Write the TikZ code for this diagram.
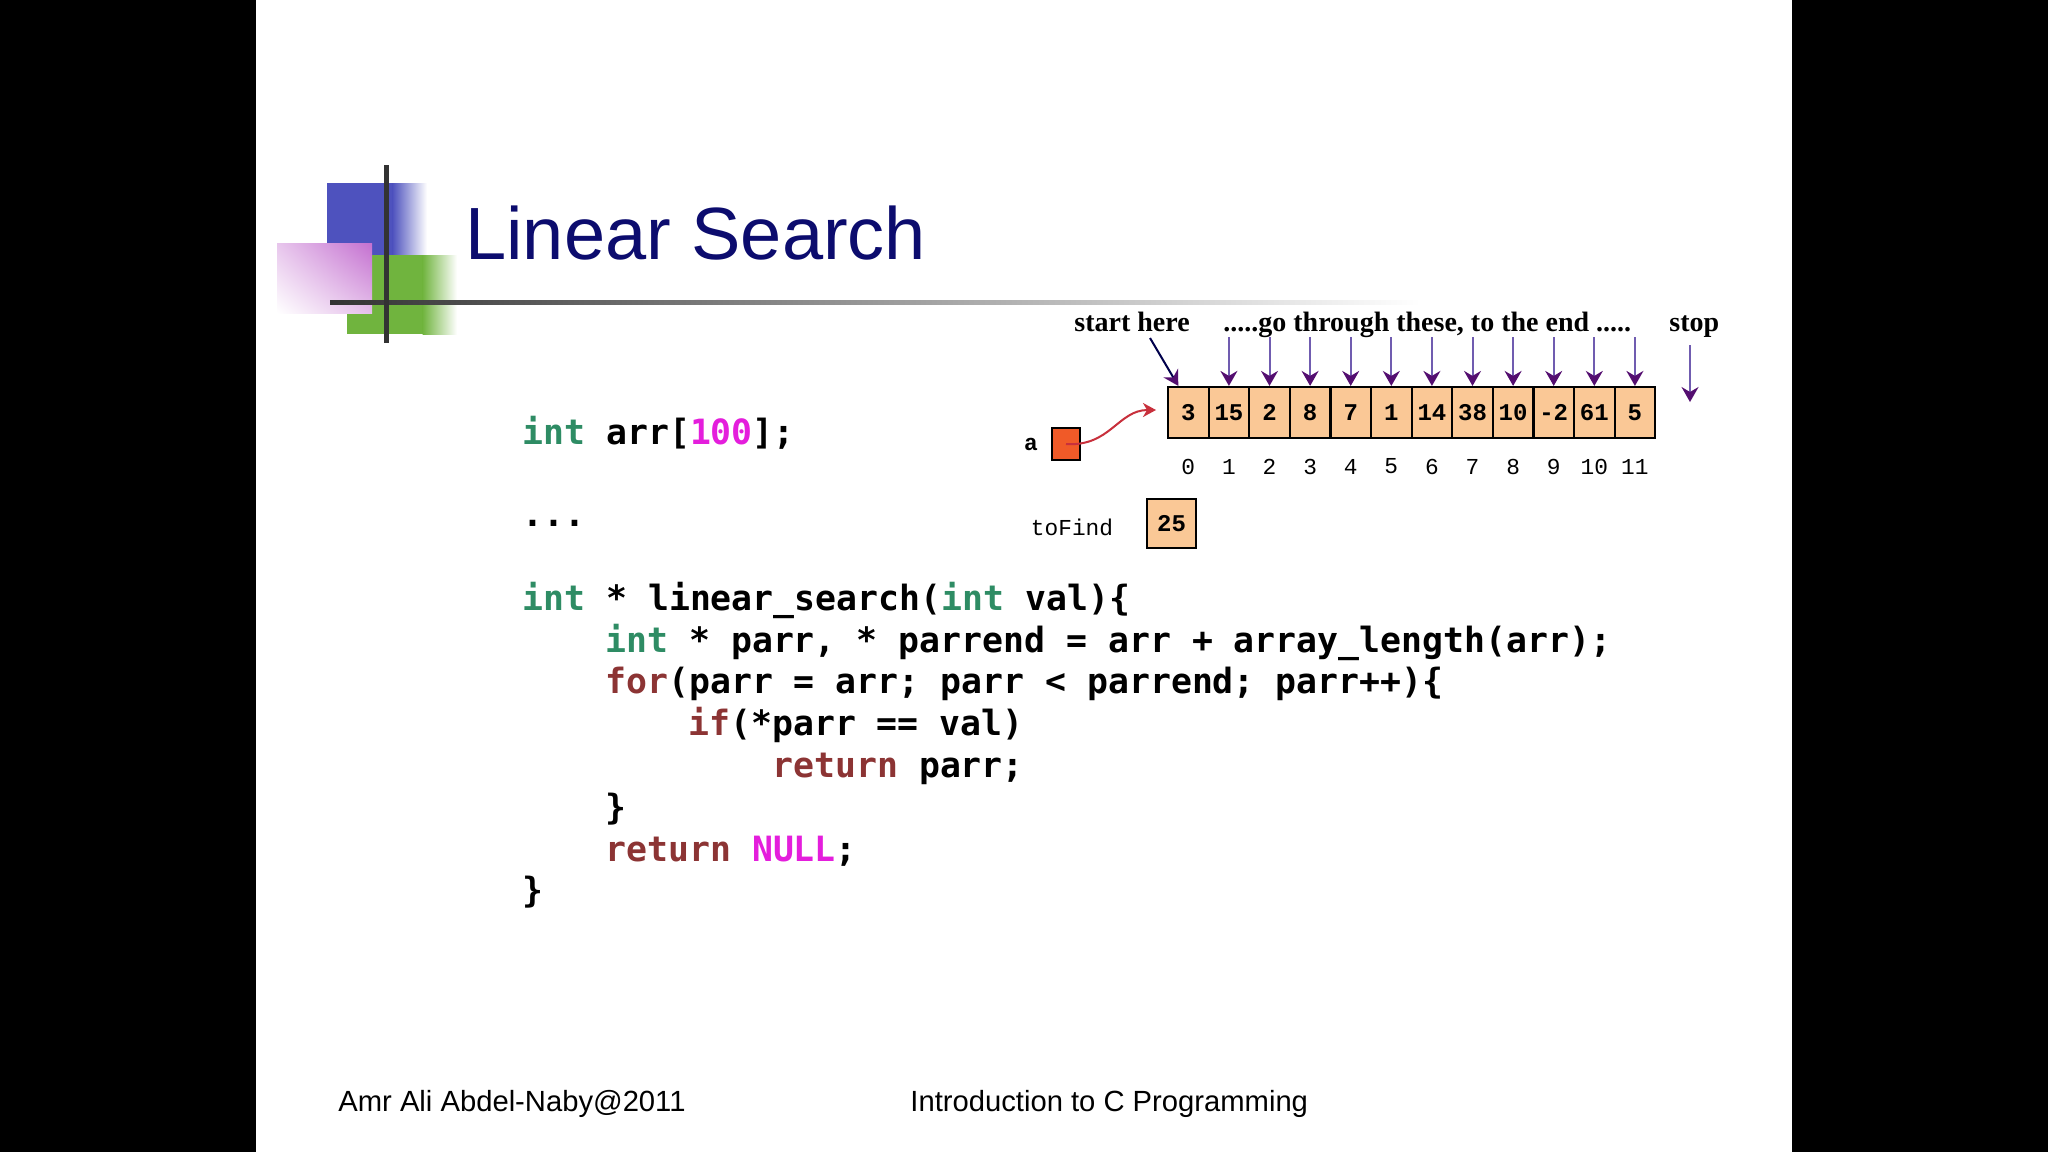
\documentclass[tikz,border=0pt]{standalone}
\usepackage{fontspec}
\setmainfont{Liberation Serif}
\setsansfont{Liberation Sans}
\setmonofont{Liberation Mono}
\newfontfamily\codefont{DejaVu Sans Mono}
\usepackage{tikz}
\usetikzlibrary{arrows.meta,shadings}
\definecolor{titleblue}{RGB}{12,12,110}
\definecolor{logoblue}{RGB}{78,82,190}
\definecolor{logogreen}{RGB}{112,180,62}
\definecolor{logopink}{RGB}{196,112,208}
\definecolor{cellfill}{RGB}{250,200,150}
\definecolor{ptrfill}{RGB}{240,90,40}
\definecolor{arrpurple}{RGB}{112,92,176}
\definecolor{headpurple}{RGB}{84,14,112}
\definecolor{ptrred}{RGB}{200,48,60}
\definecolor{kwgreen}{RGB}{46,140,100}
\definecolor{kwbrown}{RGB}{140,52,52}
\definecolor{kwpink}{RGB}{228,30,220}
\newcommand{\kint}{\textcolor{kwgreen}{int}}
\newcommand{\kctl}[1]{\textcolor{kwbrown}{#1}}
\newcommand{\klit}[1]{\textcolor{kwpink}{#1}}

\begin{document}
\begin{tikzpicture}[x=0.5pt,y=-0.5pt,
    cell/.style={draw=black,line width=1.1pt,fill=cellfill,minimum width=20.3pt,minimum height=25.5pt,inner sep=0pt,font=\ttfamily\bfseries\fontsize{12}{13}\selectfont},
    idx/.style={inner sep=0pt,font=\ttfamily\fontsize{11.4}{12}\selectfont},
    lbl/.style={anchor=base west,inner sep=0pt,font=\bfseries\fontsize{14}{15}\selectfont},
    code/.style={anchor=base west,inner sep=0pt,font=\codefont\bfseries\fontsize{17.4}{20}\selectfont},
    foot/.style={anchor=base west,inner sep=0pt,font=\sffamily\fontsize{14.6}{16}\selectfont},
    down/.style={-{Stealth[width=8.5pt,length=7.5pt,inset=2.5pt,color=headpurple]},arrpurple,line width=1pt}]

    \fill[black] (0,0) rectangle (2048,1152);
    \fill[white] (256,0) rectangle (1792,1152);

    \fill[logoblue] (327,183) rectangle (393,255);
    \shade[left color=logoblue,right color=white] (392.5,183) rectangle (427,255);
    \fill[logogreen] (347,255) rectangle (423,334);
    \shade[left color=logogreen,right color=white] (422.5,255) rectangle (457,334);
    \shade[upper right=logopink,upper left=logopink!40,lower right=logopink!45,lower left=white] (277,243) rectangle (372,313);
    \shade[left color=black!80,right color=white] (330,300) rectangle (1420,304);
    \fill[black!80] (384,165) rectangle (388.5,343);

    \node[anchor=base west,inner sep=0pt,text=titleblue,font=\sffamily\fontsize{37}{40}\selectfont] (title) at (465,259) {Linear Search};

    \node[lbl] (start) at (1074,331) {start here};
    \node[lbl] (through) at (1223,331) {.....go through these, to the end .....};
    \node[lbl] (stop) at (1669,331) {stop};

    \foreach \v [count=\i from 0] in {3,15,2,8,7,1,14,38,10,-2,61,5}{
      \node[cell] (c\i) at ({1168+40.6*(\i+0.5)},412.5) {\v};
      \node[idx] (n\i) at ({1168+40.6*(\i+0.5)},466.5) {\i};
    }
    \coordinate (s0) at (1150,338);
    \draw[down,draw=black!70!blue] (s0) -- ([xshift=-5pt]c0.north);
    \foreach \i in {1,...,11}{
      \coordinate (t\i) at ({1168+40.6*(\i+0.5)},337);
      \draw[down] (t\i) -- (c\i.north);
    }
    \coordinate (stoptop) at (1690,345);
    \coordinate (stopend) at (1690,402);
    \draw[down] (stoptop) -- (stopend);

    \node[idx,font=\ttfamily\bfseries\fontsize{11.4}{12}\selectfont] (alabel) at (1031,444) {a};
    \node[draw=black,line width=1.1pt,fill=ptrfill,minimum width=14pt,minimum height=16pt,inner sep=0pt] (a) at (1066,444) {};
    \coordinate (atip) at (1156,410);
    \draw[ptrred,line width=1pt,-{Stealth[width=7pt,length=6.5pt,inset=2pt]}] (a.center) .. controls (1110,447) and (1118,410) .. (atip);

    \node[idx] (findlabel) at (1072,527) {toFind};
    \node[cell,minimum width=24.5pt,minimum height=24.5pt] (find) at (1171.5,523.5) {25};

    \node[code] (l1) at (522,444) {\kint{} arr[\klit{100}];};
    \node[code] (l2) at (522,526) {...};
    \node[code] (l3) at (522,610) {\kint{} * linear\_search(\kint{} val)\{};
    \node[code] (l4) at (605,652) {\kint{} * parr, * parrend = arr + array\_length(arr);};
    \node[code] (l5) at (605,693) {\kctl{for}(parr = arr; parr < parrend; parr++)\{};
    \node[code] (l6) at (688,735) {\kctl{if}(*parr == val)};
    \node[code] (l7) at (772,777) {\kctl{return} parr;};
    \node[code] (l8) at (605,819) {\}};
    \node[code] (l9) at (605,861) {\kctl{return} \klit{NULL};};
    \node[code] (l10) at (522,902) {\}};

    \node[foot] (author) at (338,1111) {Amr Ali Abdel-Naby@2011};
    \node[foot] (course) at (910,1111) {Introduction to C Programming};
  \end{tikzpicture}
\end{document}
